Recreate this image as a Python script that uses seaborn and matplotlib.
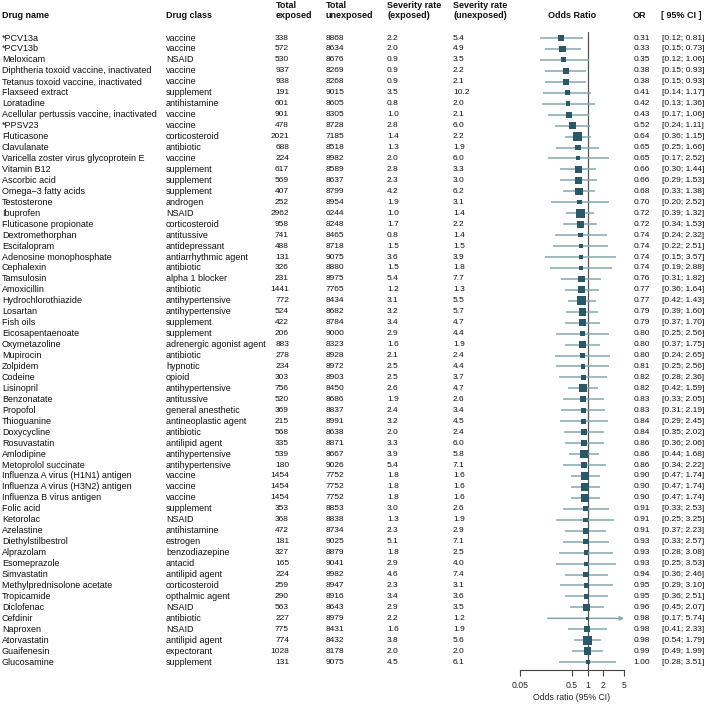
import numpy as np
import pandas as pd
import seaborn as sns
import matplotlib
matplotlib.use("Agg")
import matplotlib.pyplot as plt
from matplotlib.transforms import blended_transform_factory

drug_names = [
    "*PCV13a", "*PCV13b", "Meloxicam", "Diphtheria toxoid vaccine, inactivated",
    "Tetanus toxoid vaccine, inactivated", "Flaxseed extract", "Loratadine",
    "Acellular pertussis vaccine, inactivated", "*PPSV23", "Fluticasone", "Clavulanate",
    "Varicella zoster virus glycoprotein E", "Vitamin B12", "Ascorbic acid",
    "Omega\u22123 fatty acids", "Testosterone", "Ibuprofen", "Fluticasone propionate",
    "Dextromethorphan", "Escitalopram", "Adenosine monophosphate", "Cephalexin",
    "Tamsulosin", "Amoxicillin", "Hydrochlorothiazide", "Losartan", "Fish oils",
    "Eicosapentaenoate", "Oxymetazoline", "Mupirocin", "Zolpidem", "Codeine",
    "Lisinopril", "Benzonatate", "Propofol", "Thioguanine", "Doxycycline",
    "Rosuvastatin", "Amlodipine", "Metoprolol succinate",
    "Influenza A virus (H1N1) antigen", "Influenza A virus (H3N2) antigen",
    "Influenza B virus antigen", "Folic acid", "Ketorolac", "Azelastine",
    "Diethylstilbestrol", "Alprazolam", "Esomeprazole", "Simvastatin",
    "Methylprednisolone acetate", "Tropicamide", "Diclofenac", "Cefdinir",
    "Naproxen", "Atorvastatin", "Guaifenesin", "Glucosamine",
]
drug_classes = [
    "vaccine", "vaccine", "NSAID", "vaccine", "vaccine", "supplement", "antihistamine",
    "vaccine", "vaccine", "corticosteroid", "antibiotic", "vaccine", "supplement",
    "supplement", "supplement", "androgen", "NSAID", "corticosteroid", "antitussive",
    "antidepressant", "antiarrhythmic agent", "antibiotic", "alpha 1 blocker",
    "antibiotic", "antihypertensive", "antihypertensive", "supplement", "supplement",
    "adrenergic agonist agent", "antibiotic", "hypnotic", "opioid", "antihypertensive",
    "antitussive", "general anesthetic", "antineoplastic agent", "antibiotic",
    "antilipid agent", "antihypertensive", "antihypertensive", "vaccine", "vaccine",
    "vaccine", "supplement", "NSAID", "antihistamine", "estrogen", "benzodiazepine",
    "antacid", "antilipid agent", "corticosteroid", "opthalmic agent", "NSAID",
    "antibiotic", "NSAID", "antilipid agent", "expectorant", "supplement",
]
total_exposed = [338, 572, 530, 937, 938, 191, 601, 901, 478, 2021, 688, 224, 617, 569,
                 407, 252, 2962, 958, 741, 488, 131, 326, 231, 1441, 772, 524, 422, 206,
                 883, 278, 234, 303, 756, 520, 369, 215, 568, 335, 539, 180, 1454, 1454,
                 1454, 353, 368, 472, 181, 327, 165, 224, 259, 290, 563, 227, 775, 774,
                 1028, 131]
total_unexposed = [8868, 8634, 8676, 8269, 8268, 9015, 8605, 8305, 8728, 7185, 8518, 8982,
                   8589, 8637, 8799, 8954, 6244, 8248, 8465, 8718, 9075, 8880, 8975, 7765,
                   8434, 8682, 8784, 9000, 8323, 8928, 8972, 8903, 8450, 8686, 8837, 8991,
                   8638, 8871, 8667, 9026, 7752, 7752, 7752, 8853, 8838, 8734, 9025, 8879,
                   9041, 8982, 8947, 8916, 8643, 8979, 8431, 8432, 8178, 9075]
severity_exposed = [2.2, 2.0, 0.9, 0.9, 0.9, 3.5, 0.8, 1.0, 2.8, 1.4, 1.3, 2.0, 2.8, 2.3,
                    4.2, 1.9, 1.0, 1.7, 0.8, 1.5, 3.6, 1.5, 5.4, 1.2, 3.1, 3.2, 3.4, 2.9,
                    1.6, 2.1, 2.5, 2.5, 2.6, 1.9, 2.4, 3.2, 2.0, 3.3, 3.9, 5.4, 1.8, 1.8,
                    1.8, 3.0, 1.3, 2.3, 5.1, 1.8, 2.9, 4.6, 2.3, 3.4, 2.9, 2.2, 1.6, 3.8,
                    2.0, 4.5]
severity_unexposed = [5.4, 4.9, 3.5, 2.2, 2.1, 10.2, 2.0, 2.1, 6.0, 2.2, 1.9, 6.0, 3.3, 3.0,
                      6.2, 3.1, 1.4, 2.2, 1.4, 1.5, 3.9, 1.8, 7.7, 1.3, 5.5, 5.7, 4.7, 4.4,
                      1.9, 2.4, 4.4, 3.7, 4.7, 2.6, 3.4, 4.5, 2.4, 6.0, 5.8, 7.1, 1.6, 1.6,
                      1.6, 2.6, 1.9, 2.9, 7.1, 2.5, 4.0, 7.4, 3.1, 3.6, 3.5, 1.2, 1.9, 5.6,
                      2.0, 6.1]
odds_ratio = [0.31, 0.33, 0.35, 0.38, 0.38, 0.41, 0.42, 0.43, 0.52, 0.64, 0.65, 0.65, 0.66,
              0.66, 0.68, 0.70, 0.72, 0.72, 0.74, 0.74, 0.74, 0.74, 0.76, 0.77, 0.77, 0.79,
              0.79, 0.80, 0.80, 0.80, 0.81, 0.82, 0.82, 0.83, 0.83, 0.84, 0.84, 0.86, 0.86,
              0.86, 0.90, 0.90, 0.90, 0.91, 0.91, 0.91, 0.93, 0.93, 0.93, 0.94, 0.95, 0.95,
              0.96, 0.98, 0.98, 0.98, 0.99, 1.00]
ci_lower = [0.12, 0.15, 0.12, 0.15, 0.15, 0.14, 0.13, 0.17, 0.24, 0.36, 0.25, 0.17, 0.30,
            0.29, 0.33, 0.20, 0.39, 0.34, 0.24, 0.22, 0.15, 0.19, 0.31, 0.36, 0.42, 0.39,
            0.37, 0.25, 0.37, 0.24, 0.25, 0.28, 0.42, 0.33, 0.31, 0.29, 0.35, 0.36, 0.44,
            0.34, 0.47, 0.47, 0.47, 0.33, 0.25, 0.37, 0.33, 0.28, 0.25, 0.36, 0.29, 0.36,
            0.45, 0.17, 0.41, 0.54, 0.49, 0.28]
ci_upper = [0.81, 0.73, 1.06, 0.93, 0.93, 1.17, 1.36, 1.06, 1.11, 1.15, 1.66, 2.52, 1.44,
            1.53, 1.38, 2.52, 1.32, 1.53, 2.32, 2.51, 3.57, 2.88, 1.82, 1.64, 1.43, 1.60,
            1.70, 2.56, 1.75, 2.65, 2.56, 2.36, 1.59, 2.05, 2.19, 2.45, 2.02, 2.06, 1.68,
            2.22, 1.74, 1.74, 1.74, 2.53, 3.25, 2.23, 2.57, 3.08, 3.53, 2.46, 3.10, 2.51,
            2.07, 5.74, 2.33, 1.79, 1.99, 3.51]
tick_values = [0.05, 0.5, 1, 2, 5]
tick_labels = ["0.05", "0.5", "1", "2", "5"]

df = pd.DataFrame({
    "name": drug_names, "cls": drug_classes, "exp": total_exposed,
    "unexp": total_unexposed, "sev_e": severity_exposed, "sev_u": severity_unexposed,
    "OR": odds_ratio, "lo": ci_lower, "hi": ci_upper,
})
df["row"] = np.arange(len(df))

sns.set_theme(style="white")
plt.rcParams["font.family"] = ["Liberation Sans", "DejaVu Sans"]

W, H = 709, 705
fig = plt.figure(figsize=(W / 100, H / 100), dpi=100)
ax_top_px, ax_bot_px = 32, 670
ax_left_px, ax_right_px = 520, 624
ax = fig.add_axes([ax_left_px / W, 1 - ax_bot_px / H,
                   (ax_right_px - ax_left_px) / W, (ax_bot_px - ax_top_px) / H])

XMIN, XMAX = 0.05, 5
ax.set_xscale("log")
ax.set_xlim(XMIN, XMAX)
ax.set_ylim(57.72, -0.55)

line_col = "#86a7b0"
box_col = "#2b5866"

ax.axvline(1, color="#555555", lw=0.9, zorder=1)

inside = df[df["hi"] <= XMAX]
ax.hlines(inside["row"], inside["lo"], inside["hi"], color=line_col, lw=1.1, zorder=2)
over = df[df["hi"] > XMAX]
for _, r in over.iterrows():
    ax.annotate("", xy=(XMAX, r["row"]), xytext=(r["lo"], r["row"]),
                arrowprops=dict(arrowstyle="->", color=line_col, lw=1.1,
                                shrinkA=0, shrinkB=0, mutation_scale=6),
                zorder=2)

se = (np.log(df["hi"]) - np.log(df["lo"])) / (2 * 1.96)
side_px = 2.75 / se
sizes = (side_px * 0.72) ** 2
sns.scatterplot(data=df, x="OR", y="row", marker="s", s=sizes.values, color=box_col,
                edgecolor="none", linewidth=0, ax=ax, zorder=3, legend=False)

for s in ["top", "right", "left"]:
    ax.spines[s].set_visible(False)
ax.spines["bottom"].set_color("#444444")
ax.spines["bottom"].set_linewidth(0.8)
ax.set_yticks([])
ax.set_xticks(tick_values)
ax.set_xticklabels(tick_labels)
ax.minorticks_off()
ax.tick_params(axis="x", direction="out", length=4, width=0.8, color="#444444",
               labelsize=6.3, pad=4, bottom=True)
ax.set_xlabel("Odds ratio (95% CI)", fontsize=6.3, labelpad=2)
ax.set_ylabel("")
ax.grid(False)

tr = blended_transform_factory(fig.transFigure, ax.transData)
fs_txt = 6.5
fs_num = 6.0
def fx(px):
    return px / W

for _, r in df.iterrows():
    y = r["row"]
    kt = dict(transform=tr, fontsize=fs_txt, va="center", color="#111111")
    kn = dict(transform=tr, fontsize=fs_num, va="center", color="#111111")
    ax.text(fx(2), y, r["name"], ha="left", **kt)
    ax.text(fx(166), y, r["cls"], ha="left", **kt)
    ax.text(fx(289), y, f"{r['exp']}", ha="right", **kn)
    ax.text(fx(326), y, f"{r['unexp']}", ha="left", **kn)
    ax.text(fx(387), y, f"{r['sev_e']:.1f}", ha="left", **kn)
    ax.text(fx(453), y, f"{r['sev_u']:.1f}", ha="left", **kn)
    ax.text(fx(650), y, f"{r['OR']:.2f}", ha="right", **kn)
    ax.text(fx(662), y, f"[{r['lo']:.2f}; {r['hi']:.2f}]", ha="left", **kn)

fs_hdr = 6.5
def hdr(px, py, s, ha="left"):
    fig.text(fx(px), 1 - py / H, s, ha=ha, va="center", fontsize=fs_hdr,
             fontweight="bold", color="#111111")

hdr(2, 16, "Drug name")
hdr(166, 16, "Drug class")
hdr(276, 6, "Total")
hdr(276, 16, "exposed")
hdr(326, 6, "Total")
hdr(326, 16, "unexposed")
hdr(387, 6, "Severity rate")
hdr(387, 16, "(exposed)")
hdr(453, 6, "Severity rate")
hdr(453, 16, "(unexposed)")
hdr(572, 16, "Odds Ratio", ha="center")
hdr(633, 16, "OR")
hdr(661, 16, "[ 95% CI ]")

fig.savefig("out.png", dpi=100)
